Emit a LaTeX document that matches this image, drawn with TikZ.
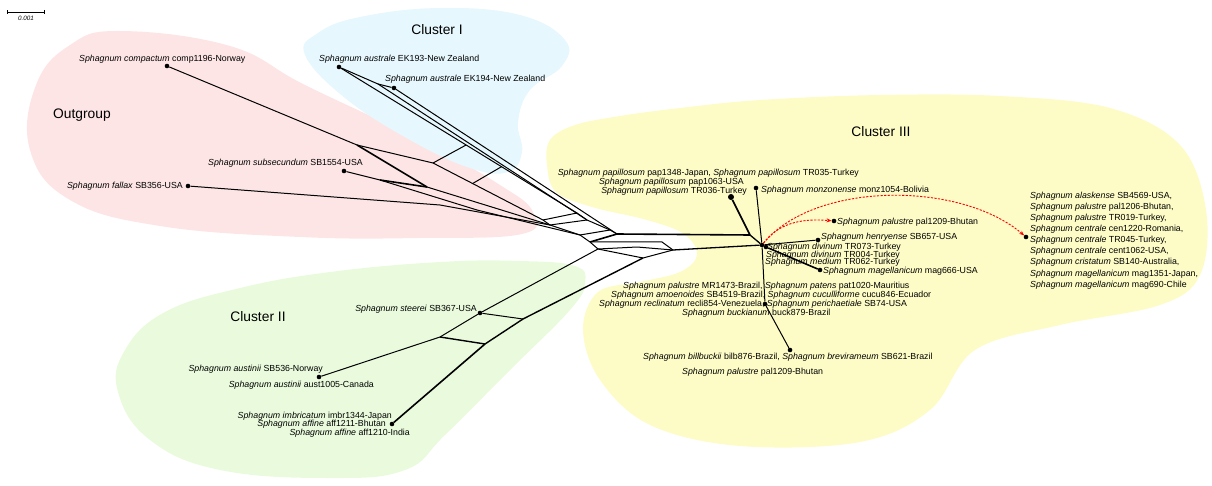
\documentclass[tikz,border=0pt]{standalone}
\usepackage{fontspec}
\setmainfont{Liberation Sans}
\usetikzlibrary{arrows.meta}
\definecolor{pinkbg}{RGB}{253,229,229}
\definecolor{bluebg}{RGB}{230,247,253}
\definecolor{greenbg}{RGB}{234,251,221}
\definecolor{yellowbg}{RGB}{253,252,198}
\begin{document}
\begin{tikzpicture}[x=1pt,y=-1pt,
  lbl/.style={inner sep=0pt, font=\fontsize{8.8}{11.1}\selectfont},
  clab/.style={inner sep=0pt, font=\fontsize{13.8}{16}\selectfont},
  edge/.style={line width=1pt, line join=round},
  dbl/.style={line width=1.6pt, line join=round},
  leaf/.style={circle, fill=black, inner sep=0pt, minimum size=4.6pt},
  bigleaf/.style={circle, fill=black, inner sep=0pt, minimum size=6pt},
  redarr/.style={red, dash pattern=on 2.2pt off 1.4pt, line width=0.9pt, -{Stealth[length=5pt,width=4pt]}}
]
\useasboundingbox (0,0) rectangle (1212,486);

% background regions
\fill[pinkbg] plot[smooth cycle, tension=0.7] coordinates {(120,31) (230,46) (305,85) (420,140) (500,185) (533,212) (522,234) (420,238) (300,237) (160,226) (70,200) (30,150) (36,85) (70,45)};
\fill[bluebg] plot[smooth cycle, tension=0.7] coordinates {(305,55) (318,33) (360,17) (440,8) (520,15) (565,40) (562,66) (530,90) (518,122) (522,152) (508,172) (470,168) (410,140) (345,98)};
\fill[greenbg] plot[smooth cycle, tension=0.7] coordinates {(585,283) (575,266) (520,261) (440,262) (330,272) (240,288) (165,312) (125,350) (118,392) (150,440) (220,470) (330,478) (405,470) (445,435) (510,370) (570,310)};
\fill[yellowbg] plot[smooth cycle, tension=0.6] coordinates {(550,140) (575,125) (620,116) (680,108) (760,100) (880,95) (1000,96) (1110,108) (1180,145) (1206,210) (1200,275) (1160,305) (1060,325) (975,350) (930,410) (860,442) (740,446) (650,425) (600,380) (583,330) (598,292) (640,282) (680,272) (697,255) (684,234) (647,220) (592,207) (556,192) (547,165)};

% scale bar
\coordinate (sb1) at (7,12);
\coordinate (sb2) at (45,12);
\draw[line width=0.6pt, {Bar[width=4pt]}-{Bar[width=4pt]}] (sb1) -- (sb2);
\node[inner sep=0pt, font=\fontsize{6.3}{7}\selectfont\itshape] (sbl) at (26,18) {0.001};

% cluster labels
\node[clab] (lout) at (82,115) {Outgroup};
\node[clab] (lc1) at (437,30) {Cluster I};
\node[clab] (lc2) at (258,317) {Cluster II};
\node[clab] (lc3) at (881,132) {Cluster III};

% leaves
\node[leaf] (cmp) at (167,66) {};
\node[leaf] (fal) at (188,186) {};
\node[leaf] (sub) at (344,171) {};
\node[leaf] (ek193) at (339,67) {};
\node[leaf] (ek194) at (394,88) {};
\node[leaf] (stee) at (480,313) {};
\node[leaf] (aus) at (319,377) {};
\node[leaf] (aff) at (392,424) {};
\node[bigleaf] (pap) at (731,197) {};
\node[leaf] (monz) at (756,188) {};
\node[leaf] (palu) at (834,221) {};
\node[leaf] (hen) at (818,240) {};
\node[leaf] (hub) at (762,245) {};
\node[leaf] (hub2) at (766,247) {};
\node[leaf] (mag) at (820,270) {};
\node[leaf] (buck) at (765,304) {};
\node[leaf] (bilb) at (790,350) {};
\node[leaf] (list) at (1026,237) {};

% junctions
\coordinate (j1) at (357,145);
\coordinate (j2) at (433,163);
\coordinate (j3) at (427,187);
\coordinate (j4) at (380,180);
\coordinate (j5) at (440,205);
\coordinate (j6) at (477,210);
\coordinate (k1) at (378,84);
\coordinate (o1) at (543,220);
\coordinate (o2) at (550,225);
\coordinate (o3) at (580,235);
\coordinate (o4) at (590,242);
\coordinate (r1) at (577,213);
\coordinate (r2) at (587,220);
\coordinate (r3) at (610,230);
\coordinate (r4) at (617,234);
\coordinate (A) at (598,249);
\coordinate (B) at (637,247);
\coordinate (C) at (673,250);
\coordinate (D) at (643,258);
\coordinate (u1) at (662,242);
\coordinate (h1) at (750,235);
\coordinate (s1) at (440,337);
\coordinate (t1) at (523,319);
\coordinate (t2) at (485,344);
\path (ek193) -- (r1) coordinate[pos=0.53] (c1a) coordinate[pos=0.68] (c2b);
\path (j2) -- (o1) coordinate[pos=0.36] (c2a);

% outgroup part
\draw[edge] (cmp) -- (j1) -- (j2) -- (o1);
\draw[dbl] (j1) -- (j3);
\draw[edge] (j3) -- (o2);
\draw[edge] (sub) -- (j4);
\draw[dbl] (j4) -- (j3);
\draw[edge] (j4) -- (j6) -- (o3);
\draw[edge] (fal) -- (j5) -- (o2);
\draw[edge] (j2) -- (c1a);
\draw[edge] (c2a) -- (c2b);
\draw[edge] (o1) -- (o2) -- (o3) -- (o4) -- (A);
% cluster I part
\draw[edge] (ek193) -- (r1);
\draw[edge] (ek193) -- (k1) -- (ek194);
\draw[edge] (k1) -- (r2);
\draw[edge] (ek194) -- (r4);
\draw[edge] (r1) -- (r2) -- (r3) -- (r4);
% rungs
\draw[edge] (o1) -- (r1);
\draw[edge] (o2) -- (r2);
\draw[edge] (o3) -- (r3);
\draw[dbl] (o4) -- (r4);
% central and cluster III
\draw[dbl] (r4) -- (h1);
\draw[edge] (o4) -- (u1) -- (C);
\draw[edge] (A) -- (B) -- (C);
\draw[edge] (A) -- (D) -- (C);
\draw[edge, line width=1.3pt] (C) -- (hub);
\draw[dbl] (pap) -- (h1);
\draw[edge, line width=1.3pt] (h1) -- (hub);
\draw[edge] (monz) -- (hub) -- (buck) -- (bilb);
\draw[edge] (hub) -- (hen);
\draw[dbl] (hub2) -- (mag);
% cluster II
\draw[edge] (A) -- (stee) -- (s1) -- (aus);
\draw[edge, line width=1.4pt] (D) -- (t1) -- (t2);
\draw[dbl] (t2) -- (aff);
\draw[edge] (stee) -- (t1);
\draw[edge, line width=1.4pt] (s1) -- (t2);

% red arrows
\draw[redarr] (hub) .. controls (778,224) and (800,218) .. (palu);
\draw[redarr] (hub) .. controls (815,181) and (960,181) .. (list);

% labels
\node[lbl, anchor=west] (tcmp) at (79,59) {\textit{Sphagnum compactum} comp1196-Norway};
\node[lbl, anchor=east] (tsub) at (363,163) {\textit{Sphagnum subsecundum} SB1554-USA};
\node[lbl, anchor=east] (tfal) at (183,186) {\textit{Sphagnum fallax} SB356-USA};
\node[lbl, anchor=west] (tek193) at (319,59) {\textit{Sphagnum australe} EK193-New Zealand};
\node[lbl, anchor=west] (tek194) at (385,79) {\textit{Sphagnum australe} EK194-New Zealand};
\node[lbl, anchor=east] (tstee) at (477,309) {\textit{Sphagnum steerei} SB367-USA};
\node[lbl, anchor=east] (taus1) at (323,369) {\textit{Sphagnum austinii} SB536-Norway};
\node[lbl, anchor=east] (taus2) at (374,385) {\textit{Sphagnum austinii} aust1005-Canada};
\node[lbl, anchor=east] (timb) at (392,416) {\textit{Sphagnum imbricatum} imbr1344-Japan};
\node[lbl, anchor=east] (taff1) at (386,424) {\textit{Sphagnum affine} aff1211-Bhutan};
\node[lbl, anchor=east] (taff2) at (410,433) {\textit{Sphagnum affine} aff1210-India};
\node[lbl, anchor=east] (tpap1) at (859,173) {\textit{Sphagnum papillosum} pap1348-Japan, \textit{Sphagnum papillosum} TR035-Turkey};
\node[lbl, anchor=east] (tpap2) at (744,182) {\textit{Sphagnum papillosum} pap1063-USA};
\node[lbl, anchor=east] (tpap3) at (747,191) {\textit{Sphagnum papillosum} TR036-Turkey};
\node[lbl, anchor=west] (tmonz) at (761,190) {\textit{Sphagnum monzonense} monz1054-Bolivia};
\node[lbl, anchor=west] (tpalu) at (837,222) {\textit{Sphagnum palustre} pal1209-Bhutan};
\node[lbl, anchor=west] (then) at (821,237) {\textit{Sphagnum henryense} SB657-USA};
\node[lbl, anchor=west] (tdiv1) at (767,247) {\textit{Sphagnum divinum} TR073-Turkey};
\node[lbl, anchor=west] (tdiv2) at (766,255) {\textit{Sphagnum divinum} TR004-Turkey};
\node[lbl, anchor=west] (tmed) at (765,262) {\textit{Sphagnum medium} TR062-Turkey};
\node[lbl, anchor=west] (tmag) at (823,271) {\textit{Sphagnum magellanicum} mag666-USA};
\node[lbl, anchor=west] (tmr) at (623,286) {\textit{Sphagnum palustre} MR1473-Brazil, \textit{Sphagnum patens} pat1020-Mauritius};
\node[lbl, anchor=west] (tamo) at (611,295) {\textit{Sphagnum amoenoides} SB4519-Brazil, \textit{Sphagnum cuculliforme} cucu846-Ecuador};
\node[lbl, anchor=west] (trec) at (599,304) {\textit{Sphagnum reclinatum} recli854-Venezuela, \textit{Sphagnum perichaetiale} SB74-USA};
\node[lbl, anchor=west] (tbuck) at (682,313) {\textit{Sphagnum buckianum} buck879-Brazil};
\node[lbl, anchor=west] (tbilb) at (643,357) {\textit{Sphagnum billbuckii} bilb876-Brazil, \textit{Sphagnum brevirameum} SB621-Brazil};
\node[lbl, anchor=west] (tpal2) at (682,372) {\textit{Sphagnum palustre} pal1209-Bhutan};
\node[lbl, anchor=west, align=left] (tlist) at (1030,240.5) {\textit{Sphagnum alaskense} SB4569-USA,\\
\textit{Sphagnum palustre} pal1206-Bhutan,\\
\textit{Sphagnum palustre} TR019-Turkey,\\
\textit{Sphagnum centrale} cen1220-Romania,\\
\textit{Sphagnum centrale} TR045-Turkey,\\
\textit{Sphagnum centrale} cent1062-USA,\\
\textit{Sphagnum cristatum} SB140-Australia,\\
\textit{Sphagnum magellanicum} mag1351-Japan,\\
\textit{Sphagnum magellanicum} mag690-Chile};
\end{tikzpicture}
\end{document}
